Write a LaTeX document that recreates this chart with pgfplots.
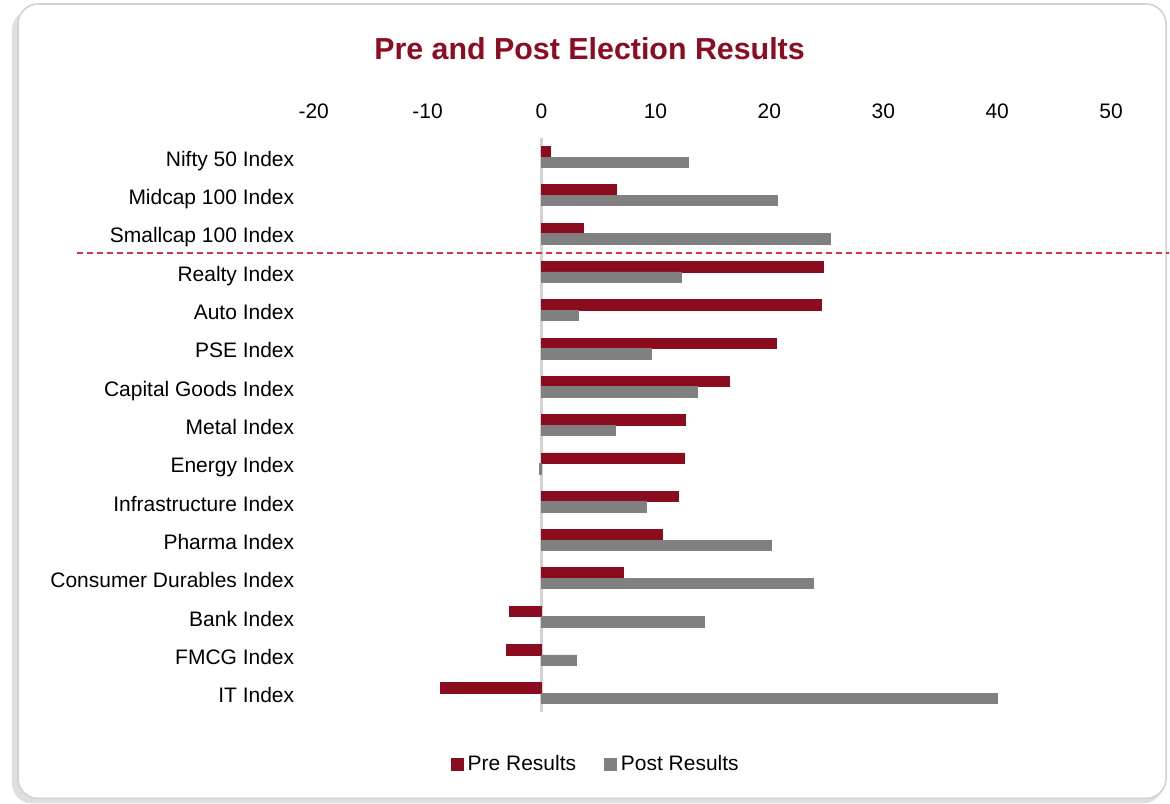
\documentclass[border=0pt]{standalone}
\usepackage{pgfplots}
\pgfplotsset{compat=1.18}
\usepackage{pgfplotstable}
\usepackage{fontspec}
\setmainfont{Liberation Sans}
\definecolor{prec}{HTML}{8A0C1E}
\definecolor{postc}{HTML}{808080}
\definecolor{titlec}{HTML}{8C0C22}
\definecolor{dashc}{HTML}{D6334D}
\pgfplotstableread{
idx pre post
0 0.8 12.9
1 6.6 20.7
2 3.7 25.4
3 24.7 12.3
4 24.6 3.2
5 20.6 9.6
6 16.5 13.7
7 12.6 6.5
8 12.5 -0.2
9 12.0 9.2
10 10.6 20.2
11 7.2 23.9
12 -2.8 14.3
13 -3.1 3.1
14 -8.9 40.0
}\datatable
\begin{document}
\begin{tikzpicture}
\path (0pt,0pt) rectangle (585pt,-402pt);
\fill[gray!25, rounded corners=10pt] (6pt,-5pt) rectangle (582pt,-402pt);
\filldraw[fill=white, draw=gray!35, line width=0.8pt, rounded corners=10pt] (9pt,-2pt) rectangle (583.5pt,-399.5pt);
\node[font=\bfseries\fontsize{15.2pt}{18pt}\selectfont, text=titlec] at (295pt,-24.5pt) {Pre and Post Election Results};
\begin{axis}[
  at={(157pt,-356.5pt)}, anchor=south west,
  scale only axis, width=399pt, height=287.5pt,
  xbar=0pt, bar width=5.25pt,
  xmin=-20, xmax=50, ymin=-0.5, ymax=14.5,
  y dir=reverse,
  xtick={-20,-10,...,50},
  xticklabel pos=upper,
  ytick={0,...,14},
  yticklabels={Nifty 50 Index,Midcap 100 Index,Smallcap 100 Index,Realty Index,Auto Index,PSE Index,Capital Goods Index,Metal Index,Energy Index,Infrastructure Index,Pharma Index,Consumer Durables Index,Bank Index,FMCG Index,IT Index},
  axis line style={draw=none},
  tick style={draw=none},
  /pgf/number format/assume math mode=true,
  ticklabel style={font=\fontsize{10.5pt}{12pt}\selectfont},
  xticklabel style={yshift=6pt},
  yticklabel style={xshift=-2pt, text height=1.55ex, text depth=0.35ex, yshift=-1.5pt},
  clip=false,
  legend style={draw=none, at={(0.355,-0.09)}, anchor=center, legend columns=2,
    font=\fontsize{10.5pt}{12pt}\selectfont,
    /tikz/every even column/.append style={column sep=12pt}},
  legend image code/.code={\fill[#1] (0pt,-3pt) rectangle (6pt,3pt);},
]
\draw[gray!35, line width=1.2pt] (axis cs:0,-0.5) -- (axis cs:0,14.5);
\addplot[fill=prec, draw=prec, bar shift=2.625pt] table[x=pre, y=idx] {\datatable};
\addplot[fill=postc, draw=postc, bar shift=-2.625pt] table[x=post, y=idx] {\datatable};
\draw[draw=dashc, line width=0.8pt, dash pattern=on 3pt off 2pt] (axis cs:-40.8,2.5) -- (axis cs:55.1,2.5);
\legend{Pre Results, Post Results}
\end{axis}
\end{tikzpicture}
\end{document}
